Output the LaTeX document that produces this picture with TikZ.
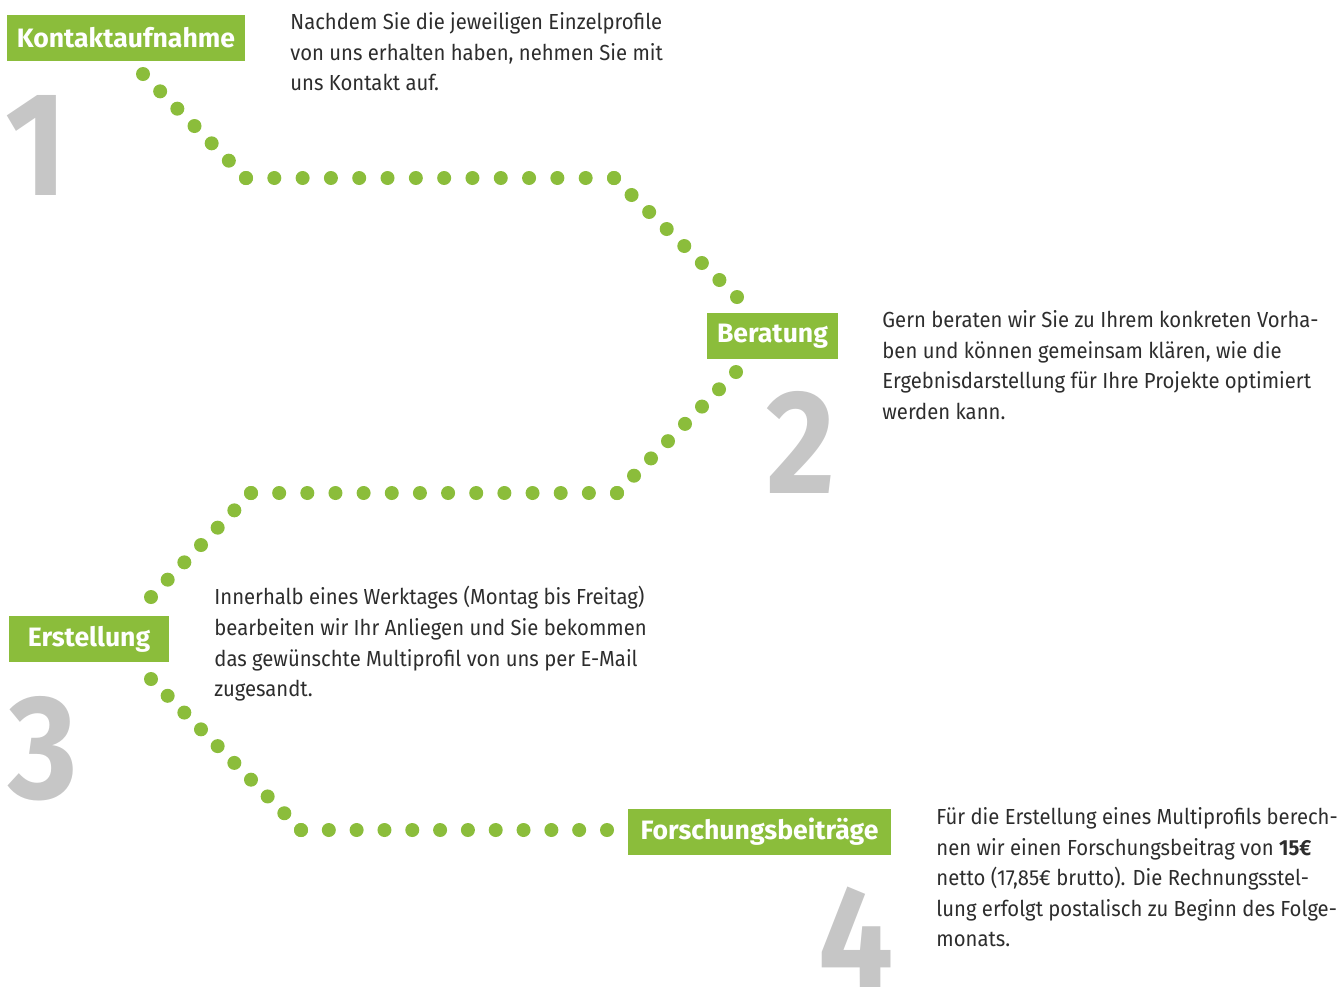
\documentclass[tikz,border=0pt]{standalone}
\usepackage{fontspec}
\setmainfont{Fira Sans}[FakeStretch=0.93]
\newfontfamily\lblfont{Fira Sans}
\newfontfamily\numfont{Fira Sans}[FakeStretch=0.9]
\usetikzlibrary{calc}
\definecolor{stepgreen}{RGB}{139,189,59}
\definecolor{numgray}{RGB}{198,198,198}
\definecolor{txtgray}{RGB}{45,45,45}
\begin{document}
\begin{tikzpicture}
		[	x=0.5pt,y=-0.5pt,
		lbl/.style={rectangle,fill=stepgreen,text=white,inner xsep=0pt,minimum height=23pt,font=\lblfont\fontsize{13.3}{16}\selectfont\bfseries},
		txt/.style={anchor=north west,align=left,inner sep=0pt,text=txtgray,font=\fontsize{10.9}{15.3}\selectfont},
		num/.style={anchor=base,inner sep=0pt,text=numgray,font=\numfont\fontsize{74}{74}\selectfont\bfseries},
		dot/.style={fill=stepgreen}
		]
		\useasboundingbox (0,0) rectangle (1342,986);
		\clip (0,0) rectangle (1342,986);
% big numbers
\node[num] (n1) at (36,195){1};
\node[num] (n2) at (801,493){2};
\node[num] (n3) at (43,798){3};
\node[num] (n4) at (856,989){4};
% corners of the dotted path
\coordinate (p1a) at (143,74);
\coordinate (p1b) at (246,178);
\coordinate (p1c) at (614,178);
\coordinate (p1d) at (737,297);
\coordinate (p2a) at (736,372);
\coordinate (p2b) at (617,493);
\coordinate (p2c) at (251,493);
\coordinate (p2d) at (151,597);
\coordinate (p3a) at (151,679);
\coordinate (p3b) at (301,830);
\coordinate (p3c) at (607,830);
\foreach \a/\b/\n in {p1a/p1b/6,p1b/p1c/13,p1c/p1d/7,p2a/p2b/7,p2b/p2c/13,p2c/p2d/6,p3a/p3b/9,p3b/p3c/11}
	\foreach \i in {0,...,\n}
		\fill[dot] ($(\a)!\i/\n!(\b)$) circle (3.5pt);
% step labels
		\node[lbl,minimum width=119pt] (kontakt) at (126,38){Kontaktaufnahme};
		\node[lbl,minimum width=65.5pt] (beratung) at (772.5,336){Beratung};
		\node[lbl,minimum width=80pt] (erstellung) at (89,639){Erstellung};
		\node[lbl,minimum width=131.5pt] (beitrag) at (759.5,832){Forschungsbeiträge};
% descriptions
\node[txt] (t1) at (290,12){Nachdem Sie die jeweiligen Einzelprofile\\von uns erhalten haben, nehmen Sie mit\\uns Kontakt auf.};
\node[txt] (t2) at (882,310){Gern beraten wir Sie zu Ihrem konkreten Vorha-\\ben und können gemeinsam klären, wie die\\Ergebnisdarstellung für Ihre Projekte optimiert\\werden kann.};
\node[txt] (t3) at (214,586){Innerhalb eines Werktages (Montag bis Freitag)\\bearbeiten wir Ihr Anliegen und Sie bekommen\\das gewünschte Multiprofil von uns per E-Mail\\zugesandt.};
\node[txt] (t4) at (936,807){Für die Erstellung eines Multiprofils berech-\\nen wir einen Forschungsbeitrag von \textbf{15€}\\netto (17,85€ brutto). Die Rechnungsstel-\\lung erfolgt postalisch zu Beginn des Folge-\\monats.};
\end{tikzpicture}
\end{document}
